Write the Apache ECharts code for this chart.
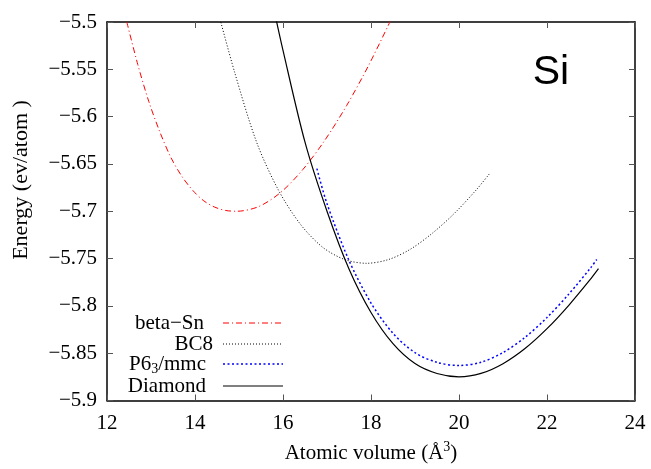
<!DOCTYPE html>
<html>
<head>
<meta charset="utf-8">
<script src="https://cdn.jsdelivr.net/npm/echarts@6/dist/echarts.min.js"></script>
<style>
  html, body { margin: 0; padding: 0; background: #fff; }
  #chart { width: 651px; height: 469px; }
</style>
</head>
<body>
<div id="chart"></div>
<script>
// values: [atomic volume, energy]
const betaSn = [
  [12.45, -5.500], [12.7, -5.545], [12.95, -5.584], [13.2, -5.616], [13.45, -5.643],
  [13.7, -5.663], [13.95, -5.678], [14.2, -5.689], [14.45, -5.6957], [14.7, -5.6992],
  [14.95, -5.700], [15.45, -5.695], [15.95, -5.680], [16.45, -5.656], [16.95, -5.625],
  [17.45, -5.588], [17.95, -5.5455], [18.45, -5.498]
];
const bc8 = [
  [14.5, -5.485], [14.9, -5.553], [15.4, -5.627], [15.9, -5.678], [16.4, -5.714],
  [16.9, -5.738], [17.4, -5.751], [17.9, -5.755], [18.4, -5.751], [18.9, -5.740],
  [19.4, -5.723], [19.9, -5.702], [20.4, -5.677], [20.69, -5.6605]
];
const p63mmc = [
  [16.77, -5.655], [17.0, -5.692], [17.5, -5.752], [18.0, -5.797], [18.5, -5.829],
  [19.0, -5.8495], [19.5, -5.8597], [20.0, -5.863], [20.5, -5.8596], [21.0, -5.8493],
  [21.5, -5.8333], [22.0, -5.8123], [22.5, -5.7873], [23.0, -5.7593], [23.13, -5.751]
];
const diamond = [
  [15.8, -5.488], [16.0, -5.530], [16.5, -5.627], [17.0, -5.700], [17.5, -5.761],
  [18.0, -5.807], [18.5, -5.840], [19.0, -5.861], [19.5, -5.8715], [20.0, -5.875],
  [20.5, -5.8714], [21.0, -5.8611], [21.5, -5.8451], [22.0, -5.8241], [22.5, -5.7991],
  [23.0, -5.7711], [23.17, -5.7607]
];

const serif = 'Liberation Serif';
const fs = 21;
const minus = v => String(v).replace('-', '\u2212');

const chart = echarts.init(document.getElementById('chart'));

// frame like gnuplot: ticks inside on all four sides
function frameAxis(extra) {
  return Object.assign({
    axisLine: { show: true, onZero: false, lineStyle: { color: '#000', width: 1.5 } },
    axisTick: { show: true, inside: true, length: 6, lineStyle: { color: '#555', width: 1 } },
    splitLine: { show: false }
  }, extra);
}

const legendRows = [
  { name: 'beta\u2212Sn', x: 204, y: 323, stroke: '#ff0000', dash: [6, 3, 1, 3], width: 1 },
  { name: 'BC8', x: 213, y: 344, stroke: '#000', dash: [1, 2], width: 1 },
  { name: '{n|P6}{sub|3}{n|/mmc}', x: 206, y: 364, stroke: '#0000ff', dash: [2, 2.5], width: 1.5 },
  { name: 'Diamond', x: 206, y: 386, stroke: '#000', dash: null, width: 1.2 }
];

const legendGraphics = [];
legendRows.forEach(r => {
  legendGraphics.push({
    type: 'text', x: r.x, y: r.y,
    style: {
      text: r.name, fill: '#000', font: fs + 'px "' + serif + '"',
      align: 'right', verticalAlign: 'middle',
      rich: {
        n: { fontSize: fs, fontFamily: serif },
        sub: { fontSize: 14, fontFamily: serif, padding: [11, 0, 0, 0] }
      }
    }
  });
  legendGraphics.push({
    type: 'line',
    shape: { x1: 223, y1: r.y, x2: 283, y2: r.y },
    style: { stroke: r.stroke, lineWidth: r.width, lineDash: r.dash }
  });
});

function curve(name, data, color, type, width) {
  return {
    name: name, type: 'line', data: data, smooth: 0.3,
    showSymbol: false, clip: true,
    lineStyle: { color: color, width: width, type: type }
  };
}

const option = {
  animation: false,
  grid: { left: 107, right: 16, top: 22, bottom: 66 },
  xAxis: [
    frameAxis({
      type: 'value', min: 12, max: 24, interval: 2, position: 'bottom',
      name: 'Atomic volume (\u00c5{sup|3})', nameLocation: 'middle', nameGap: 40,
      nameTextStyle: {
        color: '#000', fontFamily: serif, fontSize: fs,
        rich: { sup: { fontSize: 14, fontFamily: serif, padding: [0, 0, 12, 0] } }
      },
      axisLabel: { color: '#000', fontFamily: serif, fontSize: fs, margin: 12 }
    }),
    frameAxis({
      type: 'value', min: 12, max: 24, interval: 2, position: 'top',
      axisLabel: { show: false }
    })
  ],
  yAxis: [
    frameAxis({
      type: 'value', min: -5.9, max: -5.5, interval: 0.05, position: 'left',
      axisLabel: {
        color: '#000', fontFamily: serif, fontSize: fs, margin: 10,
        formatter: v => minus(Math.round(v * 100) / 100)
      }
    }),
    frameAxis({
      type: 'value', min: -5.9, max: -5.5, interval: 0.05, position: 'right',
      axisLabel: { show: false }
    })
  ],
  series: [
    curve('beta-Sn', betaSn, '#ff0000', [6, 3, 1, 3], 1),
    curve('BC8', bc8, '#000', [1, 2], 1),
    curve('P63/mmc', p63mmc, '#0000ff', [2, 2.5], 1.5),
    curve('Diamond', diamond, '#000', 'solid', 1.2)
  ],
  graphic: [
    {
      type: 'text', x: 21, y: 180, rotation: Math.PI / 2,
      style: {
        text: 'Energy (ev/atom )', fill: '#000', font: (fs + 1) + 'px "' + serif + '"',
        align: 'center', verticalAlign: 'middle'
      }
    },
    {
      type: 'text', x: 551, y: 73,
      style: {
        text: 'Si', fill: '#000', font: '41px "Liberation Sans"',
        align: 'center', verticalAlign: 'middle'
      }
    }
  ].concat(legendGraphics)
};

chart.setOption(option);
</script>
</body>
</html>
